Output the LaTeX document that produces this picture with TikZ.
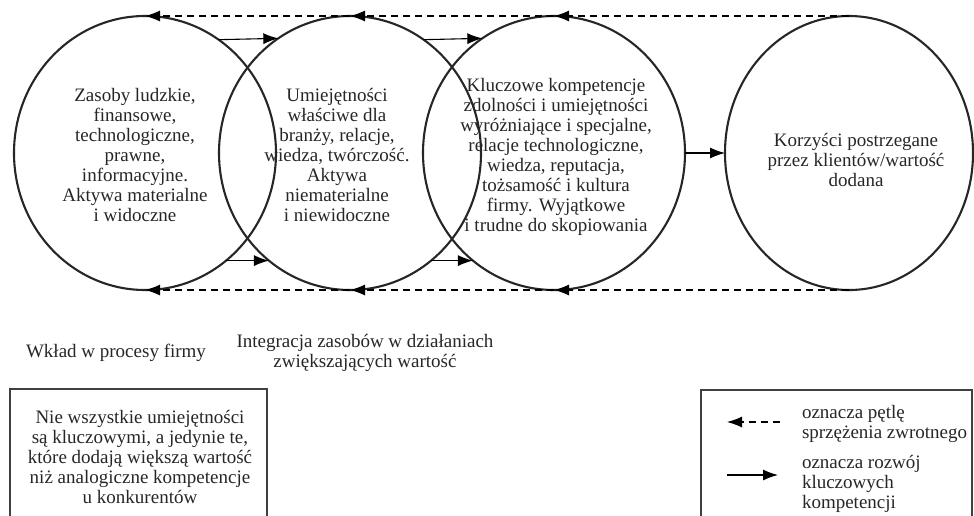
\documentclass[tikz,border=0pt]{standalone}
\usepackage{fontspec}
\setmainfont{Liberation Serif}
\usetikzlibrary{shapes.geometric,arrows.meta}

\begin{document}
\begin{tikzpicture}[x=1pt,y=-1pt,
  every node/.style={inner sep=0pt, outer sep=0pt},
  disc/.style={draw=black!85, line width=2.1pt, ellipse, minimum height=274pt},
  txt/.style={align=center, font=\fontsize{19}{20}\selectfont, text=black!85},
  ltxt/.style={align=left, font=\fontsize{19}{20}\selectfont, text=black!85},
  devarrow/.style={line width=1.1pt, -{Latex[length=15pt,width=11pt]}},
  fbarrow/.style={line width=1.1pt, dash pattern=on 7pt off 5pt, -{Latex[length=15pt,width=11pt]}},
  frame/.style={draw=black!75, line width=2pt, rectangle, anchor=north west}
]
\useasboundingbox (0,0) rectangle (974,515);
\clip (0,0) rectangle (974,515);

% the four stages
\node[disc, minimum width=262pt] (c1) at (145,153) {};
\node[disc, minimum width=262pt] (c2) at (350,153) {};
\node[disc, minimum width=262pt] (c3) at (554,153) {};
\node[disc, minimum width=248pt] (c4) at (849,153) {};

\node[txt] (t1) at (135,155) {Zasoby ludzkie,\\finansowe,\\technologiczne,\\prawne,\\informacyjne.\\Aktywa materialne\\i widoczne};
\node[txt] (t2) at (337,155) {Umiejętności\\właściwe dla\\branży, relacje,\\wiedza, twórczość.\\Aktywa\\niematerialne\\i niewidoczne};
\node[txt] (t3) at (556,157) {Kluczowe kompetencje\\zdolności i umiejętności\\wyróżniające i specjalne,\\relacje technologiczne,\\wiedza, reputacja,\\tożsamość i kultura\\firmy. Wyjątkowe\\i trudne do skopiowania};
\node[txt] (t4) at (856,160) {Korzyści postrzegane\\przez klientów/wartość\\dodana};

% development of key competences
\draw[devarrow] (c1.57.5) -- (c2.122.5);
\draw[devarrow] (c1.-53.2) -- (c2.233.2);
\draw[devarrow] (c2.57.5) -- (c3.122.5);
\draw[devarrow] (c2.-53.2) -- (c3.233.2);
\draw[devarrow] (c3.east) -- (c4.west);

% feedback loops along top and bottom
\draw[fbarrow] (c4.north) -- (c3.north);
\draw[fbarrow] (c3.north) -- (c2.north);
\draw[fbarrow] (c2.north) -- (c1.north);
\draw[fbarrow] (c4.south) -- (c3.south);
\draw[fbarrow] (c3.south) -- (c2.south);
\draw[fbarrow] (c2.south) -- (c1.south);

% captions
\node[txt] (l1) at (116,353) {Wkład w procesy firmy};
\node[txt] (l2) at (365,353) {Integracja zasobów w działaniach\\zwiększających wartość};

% note box
\node[frame, minimum width=257pt, minimum height=160pt] (note) at (10,389) {};
\node[txt] (notetext) at (140,457) {Nie wszystkie umiejętności\\są kluczowymi, a jedynie te,\\które dodają większą wartość\\niż analogiczne kompetencje\\u konkurentów};

% legend
\node[frame, minimum width=271pt, minimum height=160pt] (legend) at (701,390) {};
\coordinate (fbA) at (780,422);
\coordinate (fbB) at (727,422);
\coordinate (grA) at (727,475);
\coordinate (grB) at (778,475);
\draw[fbarrow] (fbA) -- (fbB);
\draw[devarrow] (grA) -- (grB);
\node[ltxt, anchor=north west] (lg1) at (802,405) {oznacza pętlę\\sprzężenia zwrotnego};
\node[ltxt, anchor=north west] (lg2) at (802,455) {oznacza rozwój\\kluczowych\\kompetencji};
\end{tikzpicture}
\end{document}
